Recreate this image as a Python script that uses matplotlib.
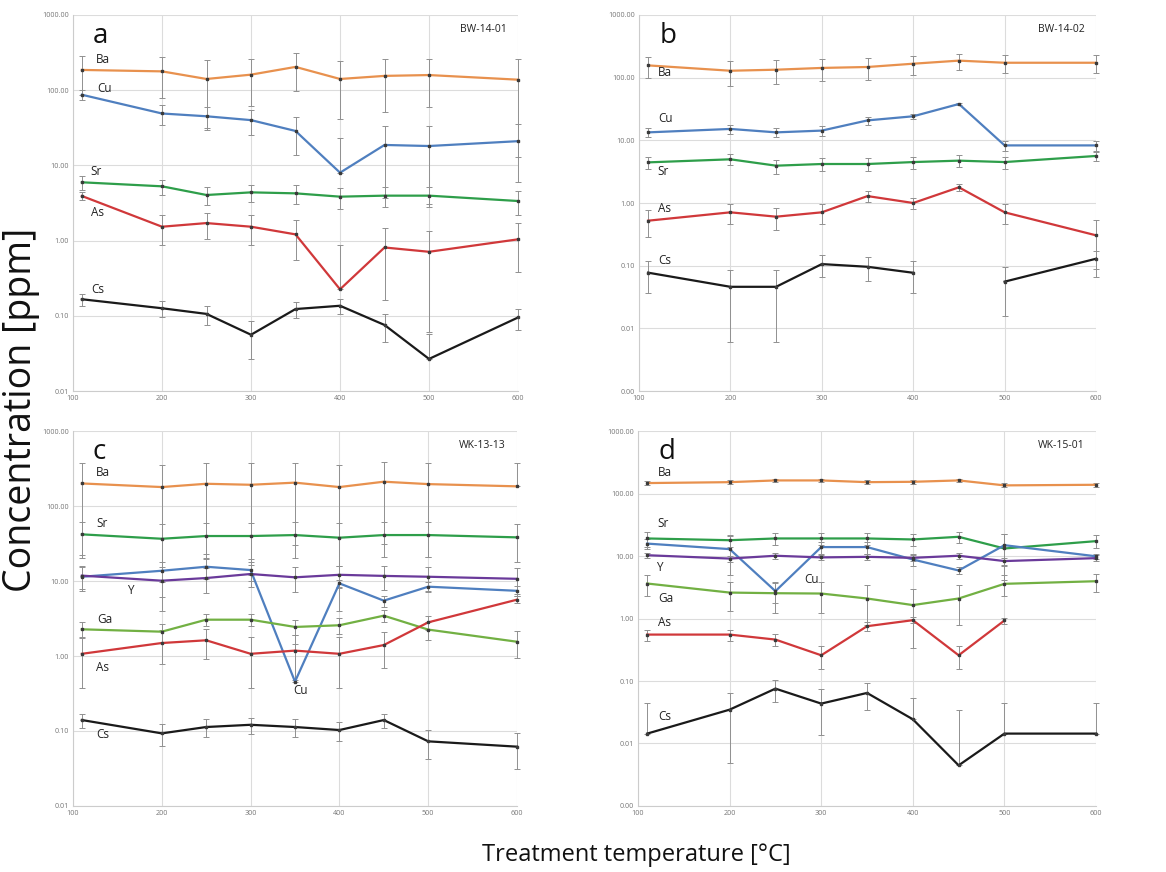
import numpy as np
import matplotlib.pyplot as plt
from matplotlib.ticker import FixedLocator, FuncFormatter

plt.rcParams['font.family'] = ['Open Sans', 'DejaVu Sans']

nan = np.nan

# treatment temperatures (degC)
temps = [110, 200, 250, 300, 350, 400, 450, 500, 600]

# panel a: BW-14-01
a_ba = [186, 178, 141, 161, 204, 141, 155, 159, 138]
a_ba_err = [100, 100, 110, 100, 105, 100, 103, 100, 125]
a_cu = [87, 49, 45, 40, 28.7, 8.0, 18.7, 18.1, 21]
a_cu_err = [14, 15, 15, 15, 15, 15, 15, 15, 15]
a_sr = [5.96, 5.27, 4.04, 4.38, 4.25, 3.84, 3.96, 3.96, 3.36]
a_sr_err = [1.2, 1.2, 1.1, 1.1, 1.2, 1.2, 1.2, 1.2, 1.2]
a_as = [3.92, 1.53, 1.71, 1.53, 1.21, 0.225, 0.81, 0.71, 1.04]
a_as_err = [0.5, 0.65, 0.65, 0.65, 0.65, 0.65, 0.65, 0.65, 0.66]
a_cs = [0.166, 0.126, 0.106, 0.056, 0.123, 0.136, 0.0755, 0.0267, 0.095]
a_cs_err = [0.03, 0.03, 0.031, 0.029, 0.03, 0.03, 0.031, 0.031, 0.03]

# panel b: BW-14-02
b_ba = [157, 129, 134, 143, 148, 167, 187, 173, 173]
b_ba_err = [57, 55, 55, 55, 55, 57, 56, 56, 56]
b_cu = [13.4, 15.2, 13.4, 14.3, 20.8, 24.2, 38, 8.3, 8.3]
b_cu_err = [2.3, 2.4, 2.3, 2.5, 3, 2.5, 1.5, 1.5, 1.5]
b_sr = [4.45, 4.98, 3.94, 4.19, 4.19, 4.5, 4.74, 4.5, 5.63]
b_sr_err = [1.0, 1.0, 1.0, 1.0, 1.0, 1.0, 1.0, 1.0, 1.0]
b_as = [0.522, 0.71, 0.605, 0.71, 1.29, 1.0, 1.78, 0.71, 0.305]
b_as_err = [0.24, 0.24, 0.24, 0.24, 0.24, 0.2, 0.2, 0.25, 0.24]
b_cs = [0.0773, 0.046, 0.046, 0.106, 0.096, 0.077, nan, 0.0556, 0.129]
b_cs_err = [0.04, 0.04, 0.04, 0.04, 0.04, 0.04, nan, 0.04, 0.04]

# panel c: WK-13-13
c_ba = [200, 179, 198, 192, 205, 179, 211, 196, 183]
c_ba_err = [180, 175, 175, 180, 175, 175, 180, 175, 190]
c_sr = [41.9, 36.6, 39.8, 39.8, 41, 37.8, 41, 41, 38.2]
c_sr_err = [20, 21, 20, 20, 21, 22, 20, 20, 20]
c_cu = [11.4, 13.7, 15.5, 14.0, 0.455, 9.3, 5.47, 8.4, 7.4]
c_cu_err = [4, 4, 5, 4, 1, 1, 0.9, 1.2, 1.1]
c_y = [11.8, 10.1, 10.96, 12.4, 11.2, 12.1, 11.7, 11.4, 10.7]
c_y_err = [4, 4, 4, 4, 4, 4, 4, 4, 4]
c_ga = [2.27, 2.11, 3.05, 3.05, 2.44, 2.57, 3.45, 2.25, 1.55]
c_ga_err = [0.55, 0.6, 0.55, 0.55, 0.55, 0.6, 0.6, 0.6, 0.6]
c_as = [1.07, 1.49, 1.62, 1.07, 1.18, 1.07, 1.40, 2.81, 5.64]
c_as_err = [0.7, 0.7, 0.7, 0.7, 0.7, 0.7, 0.7, 0.6, 0.6]
c_cs = [0.140, 0.093, 0.113, 0.121, 0.113, 0.103, 0.140, 0.0728, 0.0618]
c_cs_err = [0.03, 0.03, 0.03, 0.03, 0.03, 0.03, 0.03, 0.03, 0.031]

# panel d: WK-15-01
d_ba = [147, 152, 162, 162, 152, 154, 162, 135, 138]
d_ba_err = [10, 10, 10, 10, 10, 10, 10, 10, 10]
d_sr = [19.1, 17.9, 19.1, 19.1, 19.1, 18.4, 20.3, 13.2, 17.3]
d_sr_err = [5, 4, 4, 4, 4, 4, 4, 9, 4]
d_cu = [15.8, 12.9, 2.74, 13.9, 13.9, 8.8, 5.87, 14.9, 9.9]
d_cu_err = [3, 8, 1, 3, 3, 2, 0.8, 8, 1]
d_y = [10.3, 9.1, 10.1, 9.5, 9.7, 9.35, 10.1, 8.3, 9.25]
d_y_err = [1, 1, 1, 1, 1, 1, 1, 1, 1]
d_ga = [3.63, 2.6, 2.54, 2.51, 2.09, 1.64, 2.09, 3.59, 3.95]
d_ga_err = [1.3, 1.3, 1.3, 1.3, 1.3, 1.3, 1.3, 1.3, 1.3]
d_as = [0.553, 0.553, 0.46, 0.258, 0.753, 0.94, 0.258, 0.93, nan]
d_as_err = [0.11, 0.11, 0.1, 0.1, 0.12, 0.1, 0.1, 0.1, nan]
d_cs = [0.0144, 0.0348, 0.0755, 0.0435, 0.0644, 0.0244, 0.00447, 0.0144, 0.0144]
d_cs_err = [0.03, 0.03, 0.03, 0.03, 0.03, 0.03, 0.03, 0.03, 0.03]

colors = {'Ba': '#E8914E', 'Cu': '#4F7FBF', 'Sr': '#2E9E4A', 'As': '#D0383A',
          'Cs': '#1a1a1a', 'Y': '#6A3A9A', 'Ga': '#72B043'}

panels = [
    dict(letter='a', name='BW-14-01', ymin=0.01,
         series=[('Ba', a_ba, a_ba_err), ('Cu', a_cu, a_cu_err), ('Sr', a_sr, a_sr_err),
                 ('As', a_as, a_as_err), ('Cs', a_cs, a_cs_err)],
         labels=[('Ba', 126, 257), ('Cu', 127, 106), ('Sr', 120, 8.4),
                 ('As', 120, 2.35), ('Cs', 120, 0.225)]),
    dict(letter='b', name='BW-14-02', ymin=0.001,
         series=[('Ba', b_ba, b_ba_err), ('Cu', b_cu, b_cu_err), ('Sr', b_sr, b_sr_err),
                 ('As', b_as, b_as_err), ('Cs', b_cs, b_cs_err)],
         labels=[('Ba', 121, 120), ('Cu', 121, 21.9), ('Sr', 120, 3.24),
                 ('As', 121, 0.82), ('Cs', 121, 0.12)]),
    dict(letter='c', name='WK-13-13', ymin=0.01,
         series=[('Ba', c_ba, c_ba_err), ('Sr', c_sr, c_sr_err), ('Cu', c_cu, c_cu_err),
                 ('Y', c_y, c_y_err), ('Ga', c_ga, c_ga_err), ('As', c_as, c_as_err),
                 ('Cs', c_cs, c_cs_err)],
         labels=[('Ba', 126, 281), ('Sr', 126, 58), ('Y', 161, 7.43), ('Ga', 127, 3.08),
                 ('As', 126, 0.70), ('Cu', 348, 0.352), ('Cs', 126, 0.0885)]),
    dict(letter='d', name='WK-15-01', ymin=0.001,
         series=[('Ba', d_ba, d_ba_err), ('Sr', d_sr, d_sr_err), ('Cu', d_cu, d_cu_err),
                 ('Y', d_y, d_y_err), ('Ga', d_ga, d_ga_err), ('As', d_as, d_as_err),
                 ('Cs', d_cs, d_cs_err)],
         labels=[('Ba', 122, 218), ('Sr', 121, 32.8), ('Y', 120, 6.47), ('Cu', 281, 4.2),
                 ('Ga', 122, 2.09), ('As', 122, 0.86), ('Cs', 122, 0.0275)]),
]

rects = [[0.0626, 0.5516, 0.3817, 0.4312], [0.548, 0.5516, 0.392, 0.4312],
         [0.0626, 0.0757, 0.3808, 0.430], [0.5472, 0.0757, 0.3928, 0.430]]

fig = plt.figure(figsize=(11.66, 8.72), dpi=100)

for p, rect in zip(panels, rects):
    ax = fig.add_axes(rect)
    ax.set_yscale('log')
    x = np.array(temps, dtype=float)
    for el, vals, err in p['series']:
        v = np.array(vals, dtype=float)
        e = np.array(err, dtype=float)
        # lower bar is dropped where it would go below zero (as Excel does on log axes)
        lo = np.where(v - e > 0, e, 0)
        eb = ax.errorbar(x, v, yerr=[lo, e], fmt='none', ecolor='#909090',
                         elinewidth=0.7, capsize=2, capthick=0.7, zorder=2)
        for art in eb.lines[1] + eb.lines[2]:
            art.set_clip_on(False)
        ax.plot(x, v, color=colors[el], lw=1.6, marker='s', ms=1.6,
                mfc='#3a3a3a', mec='#3a3a3a', zorder=3, clip_on=False)
    for el, lx, ly in p['labels']:
        ax.text(lx, ly, el, fontsize=8.5, color='#222222', ha='left', va='center')

    ax.set_xlim(100, 600)
    ax.set_ylim(p['ymin'], 1000)
    ax.xaxis.set_major_locator(FixedLocator([100, 200, 300, 400, 500, 600]))
    decades = [10.0 ** k for k in range(int(round(np.log10(p['ymin']))), 4)]
    ax.yaxis.set_major_locator(FixedLocator(decades))
    ax.yaxis.set_minor_locator(FixedLocator([]))
    ax.yaxis.set_major_formatter(FuncFormatter(lambda v, pos: f'{v:.2f}'))
    ax.tick_params(axis='both', labelsize=5.2, colors='#777777', length=0, pad=3)
    ax.grid(True, color='#dcdcdc', lw=0.8)
    ax.set_axisbelow(True)
    for s in ['top', 'right']:
        ax.spines[s].set_visible(False)
    for s in ['left', 'bottom']:
        ax.spines[s].set_color('#cccccc')
        ax.spines[s].set_linewidth(0.8)

    ax.text(0.045, 0.945, p['letter'], transform=ax.transAxes, fontsize=20,
            ha='left', va='center', color='#111111')
    ax.text(0.975, 0.962, p['name'], transform=ax.transAxes, fontsize=7.5,
            ha='right', va='center', color='#222222')

fig.text(0.018, 0.53, 'Concentration [ppm]', rotation=90, fontsize=27,
         ha='center', va='center', color='#111111')
fig.text(0.546, 0.0195, 'Treatment temperature [°C]', fontsize=17,
         ha='center', va='center', color='#111111')

fig.savefig('out.png', dpi=100)
